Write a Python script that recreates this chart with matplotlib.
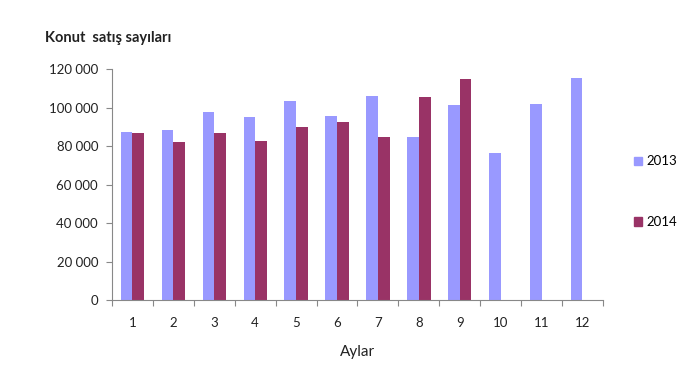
import numpy as np
import matplotlib
matplotlib.use("Agg")
import matplotlib.pyplot as plt
from matplotlib.patches import Patch
from matplotlib.ticker import FuncFormatter

plt.rcParams["font.family"] = ["Lato", "DejaVu Sans"]

months = ["1", "2", "3", "4", "5", "6", "7", "8", "9", "10", "11", "12"]
sales_2013 = [87316, 88513, 97601, 95012, 103309, 95935, 106303, 84590, 101549, 76448, 102227, 115294]
sales_2014 = [86935, 82141, 86777, 82755, 90039, 92525, 84566, 105615, 115227]
years = ["2013", "2014"]
colors = ["#9999FF", "#993366"]

fig = plt.figure(figsize=(6.8, 3.8), dpi=100)
ax = fig.add_axes([0.1647, 0.2105, 0.722, 0.607])

w = 0.285
x13 = np.arange(len(sales_2013))
x14 = np.arange(len(sales_2014))
ax.bar(x13 - w / 2, sales_2013, width=w, color=colors[0])
ax.bar(x14 + w / 2, sales_2014, width=w, color=colors[1])

ax.set_xlim(-0.5, len(months) - 0.5)
ax.set_ylim(0, 120000)
ax.set_yticks(np.arange(0, 120001, 20000))
ax.yaxis.set_major_formatter(FuncFormatter(lambda v, p: f"{int(v):,}".replace(",", " ")))

# category ticks at the boundaries, labels in the middle
ax.set_xticks(np.arange(-0.5, len(months), 1))
ax.set_xticklabels([])
ax.set_xticks(np.arange(len(months)), minor=True)
ax.set_xticklabels(months, minor=True)
ax.tick_params(axis="x", which="minor", length=0, pad=12, labelsize=9.5, labelcolor="#222222")
ax.tick_params(axis="x", which="major", length=4, direction="out", color="#888888")
ax.tick_params(axis="y", length=4, direction="out", color="#888888", labelsize=9.5, labelcolor="#222222", pad=6)

for s in ["top", "right"]:
    ax.spines[s].set_visible(False)
for s in ["left", "bottom"]:
    ax.spines[s].set_color("#888888")

ax.set_xlabel("Aylar", fontsize=11, labelpad=12, color="#222222")
fig.text(0.066, 0.9, "Konut  satış sayıları", fontsize=10.5, fontweight="bold", color="#222222", va="center")

handles = [Patch(color=c) for c in colors]
fig.legend(handles, years, loc="center left", bbox_to_anchor=(0.915, 0.495), frameon=False,
           fontsize=9.5, handlelength=0.6, handleheight=0.6, handletextpad=0.3, labelspacing=3.7)

fig.savefig("out.png", dpi=100)
